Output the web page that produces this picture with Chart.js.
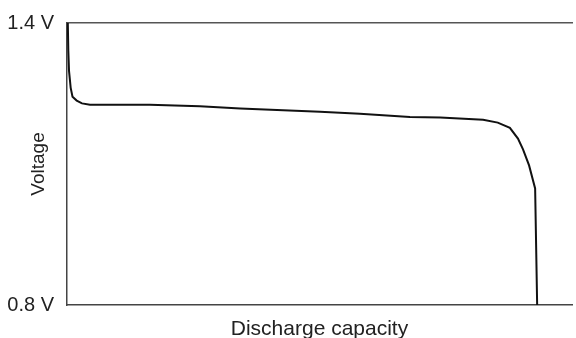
<!DOCTYPE html>
<html>
<head>
<meta charset="utf-8">
<title>Discharge curve</title>
<script src="https://cdn.jsdelivr.net/npm/chart.js@4/dist/chart.umd.min.js"></script>
<style>
  body { margin: 0; background: #fff; }
  #mycanvas { display: block; }
</style>
</head>
<body>
<canvas id="mycanvas" width="576" height="338"></canvas>
<script>
// discharge curve, capacity in % of the axis span
var capacity = [0.16, 0.26, 0.4, 0.73, 1.09, 1.92, 2.97, 4.55, 10.5, 16.4, 26.3, 34.3, 50.1, 58.0, 67.9, 73.9, 82.4, 85.3, 87.7, 89.3, 90.3, 91.5, 92.7, 93.1];
var voltage  = [1.400, 1.341, 1.298, 1.262, 1.243, 1.235, 1.229, 1.226, 1.226, 1.226, 1.223, 1.218, 1.211, 1.207, 1.200, 1.199, 1.194, 1.188, 1.177, 1.154, 1.131, 1.097, 1.048, 0.800];
var voltTicks = [0.8, 1.4];

var points = [];
for (var i in capacity) {
	points.push({x: capacity[i], y: voltage[i]});
}

var family = "'Liberation Sans', Arial, sans-serif";
var axisLine = {display: true, color: '#444', width: 1.5};

var ctx = document.getElementById('mycanvas');

var curve = new Chart(ctx, {
	type: 'line',
	data: {
		datasets: [{
			label: 'Voltage',
			data: points,
			borderColor: '#111',
			borderWidth: 2,
			pointRadius: 0,
			tension: 0,
			fill: false
		}]
	},
	options: {
		responsive: false,
		animation: false,
		layout: {padding: {left: 0, top: 0, right: 4, bottom: 0}},
		plugins: {
			legend: {display: false},
			tooltip: {enabled: false}
		},
		scales: {
			x: {
				type: 'linear',
				position: 'bottom',
				min: 0,
				max: 100,
				ticks: {display: false},
				grid: {display: false, drawTicks: false},
				border: axisLine,
				title: {
					display: true,
					text: 'Discharge capacity',
					color: '#222',
					font: {family: family, size: 21, lineHeight: 1},
					padding: {top: 0, bottom: -2}
				},
				afterFit: function(scale) { scale.height = 33; }
			},
			xTop: {
				type: 'linear',
				position: 'top',
				min: 0,
				max: 100,
				ticks: {display: false},
				grid: {display: false, drawTicks: false},
				border: {display: true, color: '#555', width: 1.5},
				afterFit: function(scale) { scale.height = 22; }
			},
			y: {
				min: 0.8,
				max: 1.4,
				afterBuildTicks: function(scale) {
					scale.ticks = voltTicks.map(function(v) { return {value: v}; });
				},
				ticks: {
					color: '#222',
					font: {family: family, size: 20, lineHeight: 1},
					padding: 13,
					callback: function(v) { return v.toFixed(1) + ' V'; }
				},
				grid: {display: false, drawTicks: false},
				border: axisLine,
				title: {
					display: true,
					text: 'Voltage',
					color: '#222',
					font: {family: family, size: 19},
					padding: {top: 27, bottom: 0}
				},
				afterFit: function(scale) { scale.width = 67; }
			}
		}
	}
});
</script>
</body>
</html>
